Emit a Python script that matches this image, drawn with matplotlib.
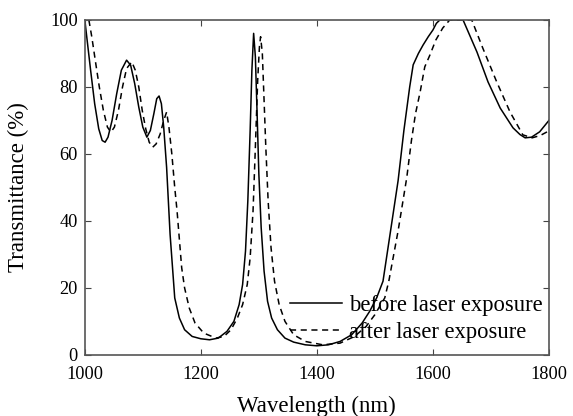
import numpy as np
import matplotlib.pyplot as plt

# Transmittance spectra
wl_before = [1000, 1004, 1010, 1017, 1024, 1030, 1035, 1040, 1047, 1055,
             1063, 1072, 1079, 1086, 1093, 1100, 1107, 1113, 1119, 1124,
             1128, 1132, 1136, 1141, 1147, 1155, 1163, 1172, 1185, 1200,
             1215, 1230, 1245, 1257, 1266, 1272, 1277, 1281, 1285, 1288,
             1291, 1294, 1297, 1300, 1304, 1309, 1315, 1322, 1332, 1345,
             1360, 1380, 1400, 1420, 1440, 1460, 1478, 1491, 1503, 1514,
             1527, 1540, 1550, 1560, 1566, 1575, 1583, 1592, 1600, 1606,
             1612, 1652, 1662, 1676, 1695, 1716, 1738, 1750, 1759, 1770,
             1784, 1800]
t_before = [100, 94, 85, 75, 67.5, 64, 63.5, 65, 70, 78,
            85, 88, 86.5, 81, 74, 68, 65, 67, 72, 76.5,
            77.3, 75, 68, 56, 36, 17, 11, 7.5, 5.5, 4.8,
            4.5, 5, 7, 10, 15, 21, 31, 46, 67, 85,
            96, 89, 72, 54, 38, 25, 16, 11, 7.5, 5,
            3.8, 3, 2.7, 3, 4, 6, 9.5, 13, 17, 22,
            37, 52, 67, 80, 86.6, 90, 92.5, 95, 97, 99,
            100, 100, 96, 90.4, 81.5, 73.7, 67.8, 65.8, 64.8, 65,
            66.6, 70]

wl_after = [1007, 1012, 1018, 1025, 1032, 1039, 1045, 1051, 1058, 1065,
            1072, 1081, 1087, 1093, 1099, 1105, 1111, 1117, 1123, 1130,
            1136, 1141, 1145, 1150, 1155, 1159, 1167, 1172, 1180, 1190,
            1205, 1226, 1240, 1252, 1263, 1272, 1280, 1285, 1290, 1294,
            1298, 1301, 1303, 1306, 1309, 1312, 1316, 1321, 1327, 1335,
            1345, 1360, 1380, 1410, 1440, 1465, 1485, 1500, 1510, 1517,
            1524, 1540, 1555, 1563, 1570, 1578, 1586, 1595, 1605, 1617,
            1629, 1667, 1676, 1686, 1710, 1733, 1755, 1771, 1785, 1797,
            1800]
t_after = [100, 95, 88, 80, 73, 68, 66.5, 68, 73, 80,
           85.5, 87.5, 85, 80, 73, 67.5, 63.5, 62, 63, 66,
           70, 72.5, 68, 60, 50, 43, 26, 20, 14, 9.5,
           6.5, 5, 5.5, 7.5, 11, 15, 21, 29, 43, 62,
           82, 92, 95, 90, 76, 62, 46, 32, 22, 15,
           10, 6, 4, 3, 3.5, 5.5, 8.5, 12, 15, 17,
           22, 37, 53, 64, 72, 78.5, 86, 89.6, 94, 97.6,
           100, 100, 96, 91.6, 81.5, 72.5, 65.7, 64.8, 65.5, 66.6,
           67]

x_ticks = [1000, 1200, 1400, 1600, 1800]
y_ticks = [0, 20, 40, 60, 80, 100]

plt.rcParams['font.family'] = ['Liberation Serif', 'DejaVu Serif']

fig = plt.figure(figsize=(5.73, 4.16), dpi=100)
ax = fig.add_axes([0.148, 0.147, 0.81, 0.805])

ax.plot(wl_before, t_before, color="black", linewidth=1.1,
        label="before laser exposure")
ax.plot(wl_after, t_after, color="black", linewidth=1.1,
        linestyle=(0, (4, 3)), label="after laser exposure")

ax.set_xlim(1000, 1800)
ax.set_ylim(0, 100)
ax.set_xticks(x_ticks)
ax.set_yticks(y_ticks)
ax.tick_params(direction="in", length=4, top=True, right=True,
               labelsize=13.2, color="#444444")
ax.tick_params(axis="x", pad=8)
ax.tick_params(axis="y", pad=5)
for s in ax.spines.values():
    s.set_color("#555555")
    s.set_linewidth(1.2)

ax.set_xlabel("Wavelength (nm)", fontsize=16.5, labelpad=9)
ax.set_ylabel("Transmittance (%)", fontsize=16.5, labelpad=15)

ax.legend(loc="lower right", frameon=False, fontsize=16.3,
          handlelength=2.3, handletextpad=0.3, labelspacing=0.28,
          borderaxespad=0.0, borderpad=0.3, bbox_to_anchor=(1.0, 0.015))

fig.savefig("out.png", dpi=100)
